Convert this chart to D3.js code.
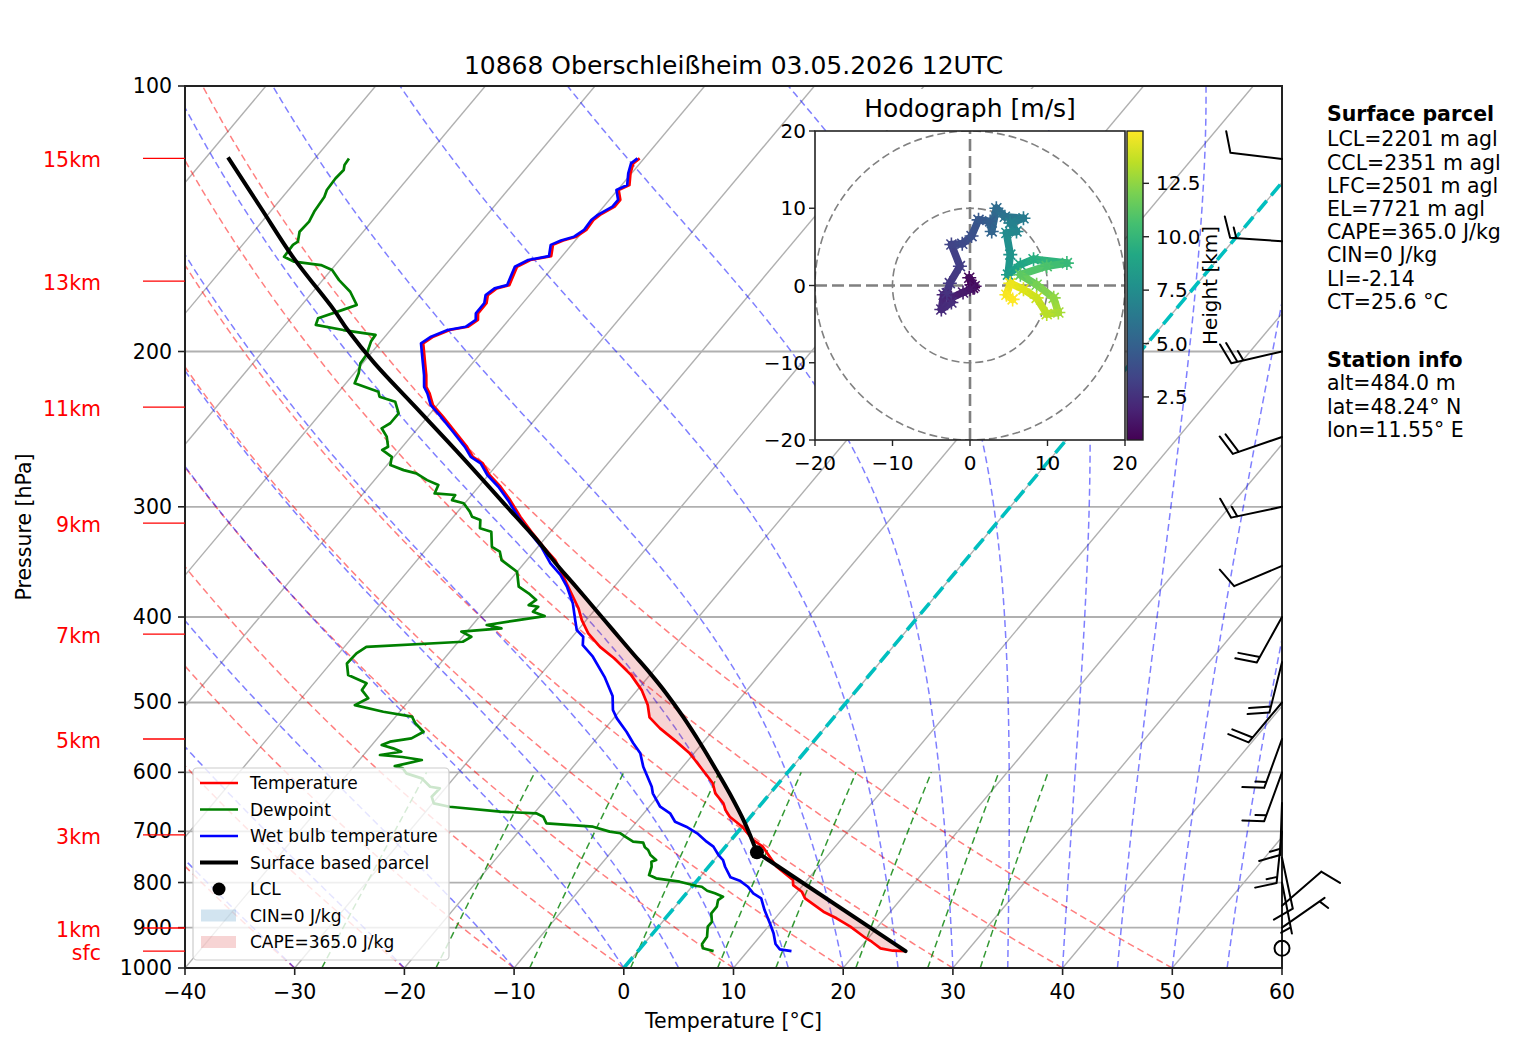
<!DOCTYPE html>
<html>
<head>
<meta charset="utf-8">
<script src="https://cdn.jsdelivr.net/npm/d3@7"></script>
<style>
body { margin: 0; background: #fff; }
svg { font-family: "DejaVu Sans", sans-serif; }
</style>
</head>
<body>
<script>
// ---- chart values ----
const titleText = "10868 Oberschleißheim 03.05.2026 12UTC";
const pressureTicks = [100, 200, 300, 400, 500, 600, 700, 800, 900, 1000];
const tempTicks = [-40, -30, -20, -10, 0, 10, 20, 30, 40, 50, 60];

// temperature profile (hPa, degC)
const tempP = [957, 955.9, 949.9, 933.7, 924.0, 897.8, 878.3, 863.3, 833.6, 819.4, 805.3, 794.8, 767.7, 728.5, 715.9,
  691.5, 673.7, 662.0, 650.6, 633.8, 617.4, 604.2, 581.0, 570.9, 553.8, 535.0, 519.8, 503.4, 484.1, 465.5, 445.7,
  432.4, 417.5, 403.3, 391.1, 372.8, 356.9, 344.8, 333.0, 321.6, 307.9, 294.8, 284.7, 276.1, 267.8, 263.3, 256.5,
  245.5, 237.1, 230.0, 223.1, 219.3, 212.7, 206.3, 195.8, 192.4, 189.1, 187.5, 184.2, 181.0, 176.3, 172.6, 169.6,
  168.2, 160.3, 157.5, 155.9, 151.4, 149.7, 148.2, 145.6, 141.9, 140.0, 137.0, 134.6, 131.2, 129.5, 125.6, 122.4, 120.8];
const tempT = [24.4, 23.2, 21.9, 20.6, 19.7, 17.5, 15.6, 13.9, 11.2, 10.4, 9.1, 8.7, 6.2, 3.4, 2.0,
  0.0, -1.9, -2.8, -3.5, -5.0, -6.0, -7.2, -9.4, -10.4, -12.5, -15.0, -16.8, -17.9, -19.6, -21.7, -24.5,
  -26.7, -28.8, -30.4, -31.6, -33.8, -35.8, -37.4, -39.5, -41.5, -43.9, -46.1, -48.0, -49.9, -51.4, -52.8, -54.1,
  -56.6, -58.6, -60.4, -61.6, -62.4, -63.3, -64.3, -66.0, -65.6, -64.6, -63.2, -62.8, -63.3, -63.3, -63.8, -63.5,
  -62.6, -63.3, -62.6, -61.0, -61.7, -61.1, -60.2, -59.8, -59.9, -59.7, -59.0, -59.0, -59.9, -59.3, -60.1, -60.6, -60.4];

// dewpoint profile
const dewP = [957, 949.9, 939.3, 921.6, 897.8, 886.3, 867.0, 852.2, 837.4, 830.2, 822.9, 817.3, 808.8, 807.3, 798.3,
  791.3, 784.5, 767.7, 757.8, 754.4, 744.6, 734.8, 729.7, 721.0, 719.1, 709.8, 703.5, 700.5, 691.5, 685.5, 673.7,
  667.7, 664.9, 656.4, 650.6, 639.4, 625.6, 623.0, 609.5, 601.6, 593.8, 590.3, 581.0, 576.5, 573.5, 568.6, 563.6,
  558.7, 553.8, 549.1, 539.7, 527.9, 518.9, 512.2, 503.4, 494.5, 484.1, 475.5, 465.5, 451.6, 439.9, 432.4, 426.7,
  421.2, 415.6, 412.0, 408.4, 403.3, 399.0, 394.5, 389.4, 387.7, 382.6, 376.0, 369.6, 355.4, 344.8, 337.3, 333.0,
  320.2, 317.3, 310.5, 307.9, 303.8, 297.2, 294.8, 290.9, 289.7, 283.4, 279.8, 274.9, 272.6, 269.0, 263.3, 258.6,
  256.5, 249.8, 244.4, 241.2, 235.0, 228.0, 225.1, 222.1, 217.3, 211.7, 206.3, 201.8, 194.9, 191.5, 189.1, 186.6,
  183.4, 179.4, 177.1, 171.1, 166.0, 161.7, 159.6, 158.2, 156.2, 151.4, 150.1, 146.3, 142.5, 138.8, 133.6, 131.2,
  127.3, 124.5, 122.9, 120.8];
const dewT = [6.9, 5.7, 5.3, 5.2, 4.5, 4.5, 3.8, 3.8, 3.4, 3.6, 2.6, 1.7, 0.9, 0.4, -1.5,
  -3.9, -4.8, -5.2, -5.6, -5.3, -6.2, -6.8, -7.3, -7.8, -8.8, -9.9, -10.6, -11.7, -13.6, -18.1, -18.9,
  -19.8, -23.2, -28.2, -29.9, -30.6, -30.5, -31.5, -32.9, -34.7, -35.4, -36.3, -34.3, -36.3, -38.5, -36.8, -37.8,
  -39.1, -38.6, -36.9, -36.3, -37.7, -38.5, -41.5, -44.6, -43.9, -45.1, -45.2, -47.5, -48.5, -48.4, -48.0, -39.6,
  -39.2, -40.5, -37.1, -38.7, -36.2, -34.1, -35.5, -35.4, -36.4, -36.1, -37.3, -38.7, -40.0, -42.3, -43.1, -44.2,
  -45.4, -46.7, -47.3, -48.3, -48.9, -50.1, -51.4, -51.5, -53.5, -53.8, -55.2, -56.7, -58.1, -59.7, -60.2, -61.6,
  -61.3, -62.2, -63.3, -62.9, -62.9, -64.1, -65.9, -66.4, -69.2, -69.6, -70.2, -70.3, -70.9, -71.0, -74.3, -77.2,
  -77.5, -75.9, -75.0, -76.6, -78.5, -79.9, -81.3, -84.0, -85.3, -85.4, -85.2, -85.8, -85.7, -86.0, -86.2, -86.5,
  -86.6, -86.5, -86.8, -86.9];

// wet bulb profile
const wetP = [957, 952.4, 939.3, 913.4, 889.8, 859.5, 833.6, 822.9, 808.8, 796.2, 789.2, 767.7, 754.4, 744.6, 728.5,
  719.1, 703.5, 691.5, 682.6, 667.7, 656.4, 633.8, 623.0, 591.3, 570.9, 556.2, 539.7, 521.2, 509.9, 491.6, 467.6,
  443.7, 430.5, 421.2, 413.9, 403.3, 386.0, 369.6, 358.4, 347.7, 333.0, 321.6, 307.9, 294.8, 284.7, 276.1, 267.8,
  263.3, 256.5, 245.5, 237.1, 230.0, 223.1, 219.3, 212.7, 206.3, 195.8, 192.4, 189.1, 187.5, 184.2, 181.0, 176.3,
  172.6, 169.6, 168.2, 160.3, 157.5, 155.9, 151.4, 149.7, 148.2, 145.6, 141.9, 140.0, 137.0, 134.6, 131.2, 129.5,
  125.6, 122.4, 120.8];
const wetT = [14.0, 12.8, 12.0, 11.0, 9.9, 8.4, 7.2, 6.1, 5.1, 3.9, 2.8, 1.5, 0.8, 0.0, -1.1,
  -2.1, -3.6, -5.1, -6.5, -7.6, -9.0, -10.7, -11.3, -13.6, -14.9, -16.3, -17.8, -19.7, -20.7, -21.8, -24.0,
  -26.6, -28.4, -29.0, -30.1, -31.0, -32.5, -34.3, -35.8, -37.6, -39.7, -41.7, -44.1, -46.3, -48.2, -50.1, -51.6,
  -53.0, -54.3, -56.8, -58.8, -60.6, -61.8, -62.6, -63.5, -64.5, -66.2, -65.8, -64.8, -63.4, -63.0, -63.5, -63.5,
  -64.0, -63.7, -62.8, -63.5, -62.8, -61.2, -61.9, -61.3, -60.4, -60.0, -60.1, -59.9, -59.2, -59.2, -60.1, -59.5,
  -60.3, -60.8, -60.6];

// surface based parcel
const parcelP = [957, 739.4, 685.5, 633.8, 596.4, 556.2, 518.9, 488.3, 463.4, 439.9, 413.9, 389.4, 366.4, 350.8,
  327.2, 307.9, 263.3, 231.0, 206.3, 189.1, 179.4, 156.2, 137.6, 120.5];
const parcelT = [24.4, 3.3, 0.0, -3.7, -6.7, -10.2, -13.8, -17.1, -20.1, -23.2, -26.8, -30.4, -34.0, -36.6,
  -40.6, -44.3, -53.8, -61.9, -68.9, -73.9, -76.7, -84.5, -91.1, -98.0];
const lclP = 739.4, lclT = 3.3;

// height markers on the left
const heightLabels = ["15km", "13km", "11km", "9km", "7km", "5km", "3km", "1km", "sfc"];
const heightP = [120.8, 166.4, 231.2, 313.0, 418.3, 550.0, 706.6, 900.8, 957];

// wind barbs (hPa, deg, kt)
const windP = [950, 900, 850, 800, 750, 700, 650, 600, 550, 500, 450, 400, 350, 300, 250, 200, 150, 121];
const windDir = [0, 55, 49, 169, 168, 186, 182, 200, 200, 220, 194, 209, 247, 258, 251, 257, 274, 277];
const windSpd = [0, 5, 10, 5, 10, 15, 15, 15, 15, 20, 20, 20, 10, 15, 20, 25, 15, 10];

// hodograph (m/s) coloured by height (km)
const hodoU = [0.4, 0.2, -0.1, 0.6, 0.0, -0.9, -2.4, -3.4, -3.7, -2.4, -3.0, -2.6, -1.3, -2.4, -1.0, 0.2, 1.1, 2.6,
  2.8, 3.4, 4.5, 6.9, 5.2, 6.0, 4.7, 5.2, 4.9, 6.5, 8.2, 12.5, 9.9, 6.5, 8.6, 10.8, 11.4, 9.9, 8.6, 6.9, 5.2, 4.7, 5.5];
const hodoV = [-0.3, 0.1, 1.0, -0.1, -0.5, -0.9, -1.6, -1.2, -3.1, -2.2, -1.0, 0.3, 2.5, 5.3, 5.4, 6.4, 8.5, 8.3,
  7.0, 10.0, 8.9, 8.7, 8.1, 7.0, 6.8, 4.0, 1.4, 2.7, 3.4, 2.9, 2.5, 1.4, 0.1, -1.6, -3.5, -3.7, -1.6, -0.5, 0.3, -1.2, -1.8];
const hodoZ = [0.484, 0.7, 0.9, 1.1, 1.3, 1.5, 1.8, 2.0, 2.2, 2.4, 2.6, 2.8, 3.1, 3.4, 3.7, 4.0, 4.4, 4.8,
  5.1, 5.5, 6.0, 6.4, 6.8, 7.1, 7.4, 7.9, 8.4, 9.0, 9.5, 10.2, 10.8, 11.3, 11.9, 12.5, 13.0, 13.4, 13.8, 14.2, 14.5, 14.8, 14.95];
const hodoTicks = [-20, -10, 0, 10, 20];
const hodoRings = [10, 20];
const cbarTicks = [2.5, 5.0, 7.5, 10.0, 12.5];

// text block on the right
const parcelTitle = "Surface parcel";
const parcelInfo = ["LCL=2201 m agl", "CCL=2351 m agl", "LFC=2501 m agl", "EL=7721 m agl", "CAPE=365.0 J/kg",
  "CIN=0 J/kg", "LI=-2.14", "CT=25.6 °C"];
const stationTitle = "Station info";
const stationInfo = ["alt=484.0 m", "lat=48.24° N", "lon=11.55° E"];

// background line families
const dryAdiabatT0 = [-40, -30, -20, -10, 0, 10, 20, 30, 40, 50];
const moistAdiabatT0 = [-40, -30, -20, -10, 0, 5, 10, 15, 20, 25, 30, 35, 40, 45, 50, 55];
const mixingRatios = [0.0004, 0.001, 0.002, 0.004, 0.007, 0.01, 0.016, 0.024, 0.032];

// ---- layout ----
const W = 1517, H = 1054;
const svg = d3.select("body").append("svg").attr("width", W).attr("height", H);
svg.append("rect").attr("width", W).attr("height", H).attr("fill", "#fff");

const x = d3.scaleLinear().domain([-40, 60]).range([185, 1282]);
const y = d3.scaleLog().domain([100, 1000]).range([86, 968]);
const skew = 0.838;
const sx = (t, p) => x(t) + skew * (y(1000) - y(p));
const L0 = x.range()[0], R0 = x.range()[1], T0 = y.range()[0], B0 = y.range()[1];

svg.append("defs").append("clipPath").attr("id", "plotClip")
  .append("rect").attr("x", L0).attr("y", T0).attr("width", R0 - L0).attr("height", B0 - T0);

const bg = svg.append("g").attr("clip-path", "url(#plotClip)");
const skLine = d3.line().x(d => sx(d[1], d[0])).y(d => y(d[0]));

// isotherms
d3.range(-160, 61, 10).forEach(t => {
  bg.append("line")
    .attr("x1", sx(t, 1000)).attr("y1", y(1000))
    .attr("x2", sx(t, 100)).attr("y2", y(100))
    .attr("stroke", "#b0b0b0").attr("stroke-width", 1.4);
});
// pressure grid
pressureTicks.forEach(p => {
  bg.append("line").attr("x1", L0).attr("x2", R0).attr("y1", y(p)).attr("y2", y(p))
    .attr("stroke", "#b0b0b0").attr("stroke-width", 1.8);
});

// dry adiabats
const pLevels = d3.range(1000, 99, -5);
dryAdiabatT0.forEach(t0 => {
  const pts = pLevels.map(p => [p, (t0 + 273.15) * Math.pow(p / 1000, 0.28571) - 273.15]);
  bg.append("path").attr("d", skLine(pts)).attr("fill", "none")
    .attr("stroke", "#ff0000").attr("stroke-opacity", 0.5).attr("stroke-width", 1.5)
    .attr("stroke-dasharray", "7,4");
});

// moist adiabats
const Rd = 287.04749, Cp = 1004.6662, Lv = 2.50084e6, eps = 0.6219569;
function satVap(tk) { return 6.112 * Math.exp(17.67 * (tk - 273.15) / (tk - 29.65)); }
function moistLapse(tk, p) {
  const es = satVap(tk);
  const rs = eps * es / (p - es);
  return (1 / p) * (Rd * tk + Lv * rs) / (Cp + (Lv * Lv * rs * eps) / (Rd * tk * tk));
}
moistAdiabatT0.forEach(t0 => {
  let tk = t0 + 273.15, p = 1000;
  const pts = [[p, t0]];
  const dp = -2;
  while (p > 100) {
    const k1 = moistLapse(tk, p);
    const k2 = moistLapse(tk + k1 * dp / 2, p + dp / 2);
    const k3 = moistLapse(tk + k2 * dp / 2, p + dp / 2);
    const k4 = moistLapse(tk + k3 * dp, p + dp);
    tk += dp * (k1 + 2 * k2 + 2 * k3 + k4) / 6;
    p += dp;
    pts.push([p, tk - 273.15]);
  }
  bg.append("path").attr("d", skLine(pts)).attr("fill", "none")
    .attr("stroke", "#0000ff").attr("stroke-opacity", 0.5).attr("stroke-width", 1.5)
    .attr("stroke-dasharray", "7,4");
});

// mixing ratio lines
const mixLevels = d3.range(1000, 599, -10);
mixingRatios.forEach(w => {
  const pts = mixLevels.map(p => {
    const e = p * w / (eps + w);
    const a = Math.log(e / 6.112);
    return [p, 243.5 * a / (17.67 - a)];
  });
  bg.append("path").attr("d", skLine(pts)).attr("fill", "none")
    .attr("stroke", "#008000").attr("stroke-opacity", 0.8).attr("stroke-width", 1.5)
    .attr("stroke-dasharray", "7,4");
});

// 0 degC isotherm
bg.append("line").attr("x1", sx(0, 1000)).attr("y1", y(1000)).attr("x2", sx(0, 100)).attr("y2", y(100))
  .attr("stroke", "#00bfbf").attr("stroke-width", 3.6).attr("stroke-dasharray", "14,7");

// CAPE shading between parcel and environment
function interpLogP(P, V, p) {
  for (let i = 0; i < P.length - 1; i++) {
    if (p <= P[i] && p >= P[i + 1]) {
      const f = (Math.log(p) - Math.log(P[i])) / (Math.log(P[i + 1]) - Math.log(P[i]));
      return V[i] + f * (V[i + 1] - V[i]);
    }
  }
  return NaN;
}
const pBot = Math.min(parcelP[0], tempP[0]);
const pTop = Math.max(parcelP[parcelP.length - 1], tempP[tempP.length - 1]);
const shadeGrid = d3.range(0, 1201).map(i => {
  const p = pBot * Math.pow(pTop / pBot, i / 1200);
  return { p, t: interpLogP(tempP, tempT, p), pc: interpLogP(parcelP, parcelT, p) };
});
bg.append("path").datum(shadeGrid)
  .attr("d", d3.area().defined(d => d.pc > d.t)
    .x0(d => sx(d.t, d.p)).x1(d => sx(d.pc, d.p)).y(d => y(d.p)))
  .attr("fill", "#d62728").attr("fill-opacity", 0.2);

// profiles
const zip = (P, T) => P.map((p, i) => [p, T[i]]);
bg.append("path").attr("d", skLine(zip(tempP, tempT))).attr("fill", "none")
  .attr("stroke", "#ff0000").attr("stroke-width", 2.7).attr("stroke-linejoin", "round");
bg.append("path").attr("d", skLine(zip(dewP, dewT))).attr("fill", "none")
  .attr("stroke", "#008000").attr("stroke-width", 2.7).attr("stroke-linejoin", "round");
bg.append("path").attr("d", skLine(zip(wetP, wetT))).attr("fill", "none")
  .attr("stroke", "#0000ff").attr("stroke-width", 2.7).attr("stroke-linejoin", "round");
// parcel: straight dry leg to the LCL, smooth moist leg above it
const parcelPts = zip(parcelP, parcelT);
bg.append("path").attr("d", skLine(parcelPts.slice(0, 2))).attr("fill", "none")
  .attr("stroke", "#000").attr("stroke-width", 4).attr("stroke-linecap", "round");
bg.append("path").attr("d", skLine.curve(d3.curveCatmullRom.alpha(0.5))(parcelPts.slice(1))).attr("fill", "none")
  .attr("stroke", "#000").attr("stroke-width", 4).attr("stroke-linejoin", "round");
skLine.curve(d3.curveLinear);
bg.append("circle").attr("cx", sx(lclT, lclP)).attr("cy", y(lclP)).attr("r", 7).attr("fill", "#000");

// ---- axes ----
const ax = svg.append("g");
ax.append("rect").attr("x", L0).attr("y", T0).attr("width", R0 - L0).attr("height", B0 - T0)
  .attr("fill", "none").attr("stroke", "#222").attr("stroke-width", 2);
pressureTicks.forEach(p => {
  ax.append("line").attr("x1", L0 - 7).attr("x2", L0).attr("y1", y(p)).attr("y2", y(p))
    .attr("stroke", "#222").attr("stroke-width", 1.6);
  ax.append("text").attr("x", L0 - 13).attr("y", y(p)).attr("text-anchor", "end")
    .attr("dominant-baseline", "central").attr("font-size", 20.5).text(p);
});
tempTicks.forEach(t => {
  ax.append("line").attr("x1", x(t)).attr("x2", x(t)).attr("y1", B0).attr("y2", B0 + 7)
    .attr("stroke", "#222").attr("stroke-width", 1.6);
  ax.append("text").attr("x", x(t)).attr("y", 992).attr("text-anchor", "middle")
    .attr("dominant-baseline", "central").attr("font-size", 20.5)
    .text(t < 0 ? "\u2212" + Math.abs(t) : t);
});
ax.append("text").attr("x", (L0 + R0) / 2).attr("y", 1021).attr("text-anchor", "middle")
  .attr("dominant-baseline", "central").attr("font-size", 20.5).text("Temperature [°C]");
ax.append("text").attr("transform", `translate(24,${(T0 + B0) / 2}) rotate(-90)`).attr("text-anchor", "middle")
  .attr("dominant-baseline", "central").attr("font-size", 20.5).text("Pressure [hPa]");
ax.append("text").attr("x", (L0 + R0) / 2).attr("y", 65).attr("text-anchor", "middle")
  .attr("dominant-baseline", "central").attr("font-size", 25).text(titleText);

// height labels
heightP.forEach((p, i) => {
  ax.append("line").attr("x1", 143).attr("x2", L0).attr("y1", y(p)).attr("y2", y(p))
    .attr("stroke", "#ff0000").attr("stroke-width", 1.3);
  ax.append("text").attr("x", 101).attr("y", y(p) + 2).attr("text-anchor", "end")
    .attr("dominant-baseline", "central").attr("font-size", 20.5).attr("fill", "#ff0000")
    .text(heightLabels[i]);
});

// ---- wind barbs ----
const barbG = svg.append("g").attr("stroke", "#000").attr("stroke-width", 2).attr("fill", "none")
  .attr("stroke-linecap", "round");
function drawBarb(bx, by, spd, dir) {
  const Ls = 52;
  if (spd < 2.5) {
    barbG.append("circle").attr("cx", bx).attr("cy", by).attr("r", 7.5);
    return;
  }
  const r = dir * Math.PI / 180, dx = Math.sin(r), dy = -Math.cos(r), px = -dy, py = dx;
  let s = Math.round(spd / 5) * 5;
  const nFlag = Math.floor(s / 50); s -= nFlag * 50;
  const nFull = Math.floor(s / 10); s -= nFull * 10;
  const nHalf = s >= 5 ? 1 : 0;
  const sp = 0.12 * Ls, fh = 0.4 * Ls, fa = 0.13 * Ls;
  let d = `M${bx},${by}L${bx + dx * Ls},${by + dy * Ls}`;
  let t = Ls;
  for (let i = 0; i < nFlag; i++) {
    const ax0 = bx + dx * t, ay0 = by + dy * t;
    d += `M${ax0},${ay0}L${ax0 + px * fh - dx * sp},${ay0 + py * fh - dy * sp}L${ax0 - dx * 2 * sp},${ay0 - dy * 2 * sp}`;
    t -= 2.5 * sp;
  }
  for (let i = 0; i < nFull; i++) {
    const ax0 = bx + dx * t, ay0 = by + dy * t;
    d += `M${ax0},${ay0}L${ax0 + px * fh + dx * fa},${ay0 + py * fh + dy * fa}`;
    t -= sp;
  }
  if (nHalf) {
    if (nFull === 0 && nFlag === 0) t -= sp;
    const ax0 = bx + dx * t, ay0 = by + dy * t;
    d += `M${ax0},${ay0}L${ax0 + px * fh / 2 + dx * fa / 2},${ay0 + py * fh / 2 + dy * fa / 2}`;
  }
  barbG.append("path").attr("d", d);
}
windP.forEach((p, i) => drawBarb(R0, y(p), windSpd[i], windDir[i]));

// ---- legend ----
const lg = svg.append("g");
lg.append("rect").attr("x", 193).attr("y", 768).attr("width", 256).attr("height", 192).attr("rx", 4)
  .attr("fill", "#fff").attr("fill-opacity", 0.8).attr("stroke", "#cccccc").attr("stroke-width", 1.2);
const legendItems = [
  { label: "Temperature", type: "line", color: "#ff0000", w: 2.7 },
  { label: "Dewpoint", type: "line", color: "#008000", w: 2.7 },
  { label: "Wet bulb temperature", type: "line", color: "#0000ff", w: 2.7 },
  { label: "Surface based parcel", type: "line", color: "#000", w: 4 },
  { label: "LCL", type: "dot", color: "#000" },
  { label: "CIN=0 J/kg", type: "patch", color: "#1f77b4" },
  { label: "CAPE=365.0 J/kg", type: "patch", color: "#d62728" }
];
legendItems.forEach((it, i) => {
  const ly = 783 + i * 26.5;
  if (it.type === "line") {
    lg.append("line").attr("x1", 200).attr("x2", 238).attr("y1", ly).attr("y2", ly)
      .attr("stroke", it.color).attr("stroke-width", it.w);
  } else if (it.type === "dot") {
    lg.append("circle").attr("cx", 219).attr("cy", ly).attr("r", 6.5).attr("fill", it.color);
  } else {
    lg.append("rect").attr("x", 201).attr("y", ly - 6).attr("width", 35).attr("height", 12)
      .attr("fill", it.color).attr("fill-opacity", 0.2);
  }
  lg.append("text").attr("x", 250).attr("y", ly).attr("dominant-baseline", "central")
    .attr("font-size", 17).text(it.label);
});

// ---- hodograph inset ----
const hx = d3.scaleLinear().domain([-20, 20]).range([815, 1125]);
const hy = d3.scaleLinear().domain([-20, 20]).range([440, 131]);
const hg = svg.append("g");
hg.append("rect").attr("x", 856).attr("y", 89).attr("width", 228).attr("height", 41).attr("fill", "#fff");
hg.append("text").attr("x", 970).attr("y", 108).attr("text-anchor", "middle").attr("dominant-baseline", "central")
  .attr("font-size", 25).text("Hodograph [m/s]");
hg.append("rect").attr("x", hx(-20)).attr("y", hy(20)).attr("width", hx(20) - hx(-20)).attr("height", hy(-20) - hy(20))
  .attr("fill", "#fff");
svg.select("defs").append("clipPath").attr("id", "hodoClip").append("rect")
  .attr("x", hx(-20)).attr("y", hy(20)).attr("width", hx(20) - hx(-20)).attr("height", hy(-20) - hy(20));
const hin = hg.append("g").attr("clip-path", "url(#hodoClip)");
hodoRings.forEach(rr => {
  hin.append("ellipse").attr("cx", hx(0)).attr("cy", hy(0))
    .attr("rx", hx(rr) - hx(0)).attr("ry", hy(0) - hy(rr))
    .attr("fill", "none").attr("stroke", "#808080").attr("stroke-width", 1.6).attr("stroke-dasharray", "8,4");
});
hin.append("line").attr("x1", hx(-20)).attr("x2", hx(20)).attr("y1", hy(0)).attr("y2", hy(0))
  .attr("stroke", "#808080").attr("stroke-width", 2.6).attr("stroke-dasharray", "12,5");
hin.append("line").attr("x1", hx(0)).attr("x2", hx(0)).attr("y1", hy(-20)).attr("y2", hy(20))
  .attr("stroke", "#808080").attr("stroke-width", 2.6).attr("stroke-dasharray", "12,5");

const zExt = d3.extent(hodoZ);
const zNorm = d3.scaleLinear().domain(zExt).range([0, 1]);
for (let i = 0; i < hodoU.length - 1; i++) {
  const zc = (hodoZ[i] + hodoZ[i + 1]) / 2;
  hin.append("line")
    .attr("x1", hx(hodoU[i])).attr("y1", hy(hodoV[i]))
    .attr("x2", hx(hodoU[i + 1])).attr("y2", hy(hodoV[i + 1]))
    .attr("stroke", d3.interpolateViridis(zNorm(zc))).attr("stroke-width", 7.5).attr("stroke-linecap", "round");
}
hodoU.forEach((u, i) => {
  const cx = hx(u), cy = hy(hodoV[i]), c = d3.interpolateViridis(zNorm(hodoZ[i]));
  hin.append("path")
    .attr("d", `M${cx - 7},${cy}L${cx + 7},${cy}M${cx},${cy - 7}L${cx},${cy + 7}` +
      `M${cx - 5},${cy - 5}L${cx + 5},${cy + 5}M${cx - 5},${cy + 5}L${cx + 5},${cy - 5}`)
    .attr("stroke", c).attr("stroke-width", 1.6);
});
hg.append("rect").attr("x", hx(-20)).attr("y", hy(20)).attr("width", hx(20) - hx(-20)).attr("height", hy(-20) - hy(20))
  .attr("fill", "none").attr("stroke", "#222").attr("stroke-width", 1.6);
hodoTicks.forEach(v => {
  const lab = v < 0 ? "\u2212" + Math.abs(v) : String(v);
  hg.append("line").attr("x1", hx(-20) - 6).attr("x2", hx(-20)).attr("y1", hy(v)).attr("y2", hy(v))
    .attr("stroke", "#222").attr("stroke-width", 1.4);
  hg.append("text").attr("x", hx(-20) - 9).attr("y", hy(v)).attr("text-anchor", "end")
    .attr("dominant-baseline", "central").attr("font-size", 20).text(lab);
  hg.append("line").attr("x1", hx(v)).attr("x2", hx(v)).attr("y1", hy(-20)).attr("y2", hy(-20) + 6)
    .attr("stroke", "#222").attr("stroke-width", 1.4);
  hg.append("text").attr("x", hx(v)).attr("y", hy(-20) + 23).attr("text-anchor", "middle")
    .attr("dominant-baseline", "central").attr("font-size", 20).text(lab);
});

// colorbar
const cz = d3.scaleLinear().domain(zExt).range([hy(-20), hy(20)]);
const grad = svg.select("defs").append("linearGradient").attr("id", "viridisGrad")
  .attr("x1", 0).attr("y1", 1).attr("x2", 0).attr("y2", 0);
d3.range(0, 11).forEach(i => {
  grad.append("stop").attr("offset", i / 10).attr("stop-color", d3.interpolateViridis(i / 10));
});
hg.append("rect").attr("x", 1127).attr("y", hy(20)).attr("width", 16).attr("height", hy(-20) - hy(20))
  .attr("fill", "url(#viridisGrad)").attr("stroke", "#222").attr("stroke-width", 1.4);
cbarTicks.forEach(v => {
  hg.append("line").attr("x1", 1143).attr("x2", 1149).attr("y1", cz(v)).attr("y2", cz(v))
    .attr("stroke", "#222").attr("stroke-width", 1.4);
  hg.append("text").attr("x", 1156).attr("y", cz(v)).attr("dominant-baseline", "central")
    .attr("font-size", 20).text(d3.format(".1f")(v));
});
hg.append("text").attr("transform", `translate(1210,${hy(0)}) rotate(-90)`).attr("text-anchor", "middle")
  .attr("dominant-baseline", "central").attr("font-size", 20).text("Height [km]");

// ---- info text ----
const info = svg.append("g").attr("font-size", 20.5);
info.append("text").attr("x", 1327).attr("y", 114).attr("dominant-baseline", "central")
  .attr("font-weight", "bold").text(parcelTitle);
parcelInfo.forEach((s, i) => {
  info.append("text").attr("x", 1327).attr("y", 139.3 + i * 23.2).attr("dominant-baseline", "central").text(s);
});
info.append("text").attr("x", 1327).attr("y", 360).attr("dominant-baseline", "central")
  .attr("font-weight", "bold").text(stationTitle);
stationInfo.forEach((s, i) => {
  info.append("text").attr("x", 1327).attr("y", 383.3 + i * 23.2).attr("dominant-baseline", "central").text(s);
});
</script>
</body>
</html>
